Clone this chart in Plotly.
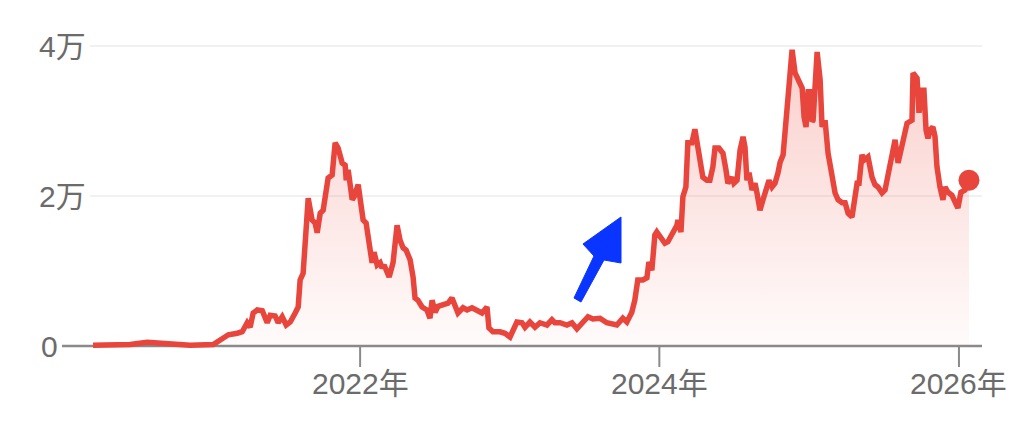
import pandas as pd
import plotly.graph_objects as go

# ---- data ----
# time in decimal years, price values
years = [
    2020.217, 2020.331, 2020.464, 2020.578, 2020.698, 2020.865, 2021.018, 2021.065, 2021.119, 2021.179,
    2021.212, 2021.245, 2021.265, 2021.285, 2021.312, 2021.346, 2021.379, 2021.399, 2021.432, 2021.452,
    2021.479, 2021.506, 2021.533, 2021.566, 2021.586, 2021.599, 2021.619, 2021.653, 2021.679, 2021.699,
    2021.713, 2021.733, 2021.753, 2021.786, 2021.813, 2021.833, 2021.853, 2021.880, 2021.900, 2021.907,
    2021.920, 2021.947, 2021.960, 2021.987, 2022.020, 2022.040, 2022.067, 2022.080, 2022.093, 2022.114,
    2022.134, 2022.147, 2022.160, 2022.194, 2022.220, 2022.247, 2022.267, 2022.287, 2022.307, 2022.334,
    2022.354, 2022.367, 2022.387, 2022.414, 2022.447, 2022.467, 2022.481, 2022.501, 2022.521, 2022.554,
    2022.588, 2022.614, 2022.634, 2022.654, 2022.688, 2022.715, 2022.748, 2022.781, 2022.815, 2022.848,
    2022.861, 2022.888, 2022.935, 2022.968, 2023.002, 2023.048, 2023.082, 2023.102, 2023.135, 2023.169,
    2023.202, 2023.249, 2023.282, 2023.302, 2023.336, 2023.382, 2023.416, 2023.449, 2023.489, 2023.523,
    2023.556, 2023.603, 2023.649, 2023.716, 2023.756, 2023.783, 2023.816, 2023.836, 2023.856, 2023.890,
    2023.917, 2023.930, 2023.950, 2023.970, 2023.983, 2024.017, 2024.037, 2024.057, 2024.090, 2024.117,
    2024.124, 2024.144, 2024.157, 2024.177, 2024.190, 2024.217, 2024.237, 2024.250, 2024.270, 2024.290,
    2024.317, 2024.337, 2024.357, 2024.371, 2024.397, 2024.424, 2024.444, 2024.457, 2024.484, 2024.497,
    2024.518, 2024.538, 2024.558, 2024.571, 2024.584, 2024.598, 2024.618, 2024.638, 2024.651, 2024.671,
    2024.691, 2024.718, 2024.731, 2024.751, 2024.771, 2024.791, 2024.805, 2024.825, 2024.851, 2024.871,
    2024.885, 2024.905, 2024.938, 2024.952, 2024.965, 2024.978, 2024.992, 2025.012, 2025.018, 2025.025,
    2025.052, 2025.072, 2025.085, 2025.105, 2025.125, 2025.152, 2025.172, 2025.192, 2025.219, 2025.239,
    2025.259, 2025.285, 2025.299, 2025.319, 2025.332, 2025.352, 2025.366, 2025.392, 2025.419, 2025.439,
    2025.459, 2025.486, 2025.506, 2025.526, 2025.553, 2025.573, 2025.593, 2025.619, 2025.639, 2025.653,
    2025.686, 2025.693, 2025.720, 2025.733, 2025.753, 2025.766, 2025.780, 2025.793, 2025.806, 2025.826,
    2025.840, 2025.853, 2025.873, 2025.893, 2025.907, 2025.927, 2025.953, 2025.973, 2025.993, 2026.013,
    2026.040, 2026.067,
]
prices = [
    100, 100, 200, 500, 300, 100, 200, 800, 1500, 1700,
    1900, 3100, 2500, 4400, 4800, 4700, 3100, 4100, 4000, 3100,
    3900, 2800, 3200, 4400, 5200, 8800, 9700, 19700, 16800, 16400,
    15100, 17700, 18100, 22400, 22800, 27100, 26400, 24400, 24100, 22100,
    23500, 19500, 19900, 21500, 16800, 16400, 12800, 11100, 12500, 10800,
    11100, 10400, 10800, 9200, 11100, 16100, 14100, 13100, 12800, 11500,
    9200, 6400, 6100, 5200, 4800, 3700, 6100, 4500, 5300, 5500,
    5700, 6400, 5100, 4400, 5100, 4800, 5100, 4800, 4400, 5200,
    2400, 1900, 1900, 1700, 1200, 3200, 3100, 2500, 3200, 2500,
    3100, 2800, 3500, 3100, 3100, 2800, 3100, 2300, 3100, 3900,
    3600, 3700, 3100, 2800, 3700, 3200, 4500, 6100, 8800, 8800,
    9100, 11200, 10100, 14800, 15200, 14100, 13700, 13900, 15200, 16100,
    16800, 15200, 19900, 21200, 27100, 27100, 28900, 27500, 24800, 22500,
    22100, 22100, 23900, 26400, 26400, 25700, 23500, 21700, 22500, 21700,
    22100, 26100, 27900, 26500, 22100, 23100, 20800, 21700, 20400, 18100,
    19500, 21100, 22100, 21200, 21700, 23100, 24500, 25500, 31900, 36400,
    39500, 36400, 35100, 34400, 30500, 29200, 33900, 33900, 29900, 30100,
    39200, 35500, 29200, 30100, 25700, 22100, 20400, 19500, 19100, 19100,
    17700, 17200, 19100, 21700, 21700, 25500, 24800, 25200, 22500, 21500,
    21200, 20400, 20800, 23100, 26100, 27500, 24400, 26500, 28400, 29700,
    30100, 36400, 35700, 31100, 34100, 34100, 28800, 27700, 28800, 29200,
    27900, 23900, 21200, 19500, 21200, 20500, 20100, 19200, 18400, 20500,
    20800, 22100,
]
y_tick_values = [0, 20000, 40000]
y_tick_labels = ["0", "2万", "4万"]
x_tick_years = [2022, 2024, 2026]
x_tick_labels = ["2022年", "2024年", "2026年"]


def to_date(t):
    y = int(t)
    start = pd.Timestamp(year=y, month=1, day=1)
    end = pd.Timestamp(year=y + 1, month=1, day=1)
    return start + (end - start) * (t - y)


dates = [to_date(t) for t in years]

# ---- layout geometry (pixels) ----
W, H = 1024, 424
ML, MR, MT, MB = 62, 42, 30, 54
PW, PH = W - ML - MR, H - MT - MB


def px_x(px):
    return (px - ML) / PW


def px_y(py):
    return (H - MB - py) / PH


LINE_RED = "#e8453c"
TEXT_GRAY = "#6b6b6b"
FONT = "Liberation Sans, Arial, Noto Sans CJK JP, sans-serif"

fig = go.Figure()
fig.add_trace(go.Scatter(
    x=dates, y=prices, mode="lines",
    line=dict(color=LINE_RED, width=5.5, shape="linear"),
    fill="tozeroy",
    fillgradient=dict(
        type="vertical",
        colorscale=[[0, "rgba(234,67,53,0.02)"], [1, "rgba(234,67,53,0.26)"]],
        start=0, stop=40000,
    ),
    hoverinfo="skip",
))
fig.add_trace(go.Scatter(
    x=[dates[-1]], y=[prices[-1]], mode="markers",
    marker=dict(color=LINE_RED, size=21),
    cliponaxis=False, hoverinfo="skip",
))

shapes = []
# gridlines
for v in y_tick_values[1:]:
    shapes.append(dict(type="line", xref="paper", yref="y",
                       x0=px_x(90), x1=1.0, y0=v, y1=v,
                       line=dict(color="#f1f1f1", width=2), layer="below"))
# x axis baseline
shapes.append(dict(type="line", xref="paper", yref="y",
                   x0=0.0, x1=1.0, y0=0, y1=0,
                   line=dict(color="#8a8a8a", width=2.5), layer="below"))
# ticks
for yr in x_tick_years:
    d = to_date(yr)
    shapes.append(dict(type="line", xref="x", yref="paper",
                       x0=d, x1=d, y0=px_y(346), y1=px_y(367),
                       line=dict(color="#8a8a8a", width=2), layer="below"))
# blue arrow (annotation mark)
arrow_pts = [(574, 298), (594, 256), (583, 244), (621, 217), (621, 263), (604, 260), (581, 302)]
path = "M " + " L ".join(f"{px_x(a):.5f},{px_y(b):.5f}" for a, b in arrow_pts) + " Z"
shapes.append(dict(type="path", xref="paper", yref="paper", path=path,
                   fillcolor="#0a34ff", line=dict(color="#0a34ff", width=1), layer="above"))

annotations = []
for v, lab in zip(y_tick_values, y_tick_labels):
    xr = 60 if v == 0 else 88
    annotations.append(dict(x=px_x(xr), y=v, xref="paper", yref="y", text=lab,
                            showarrow=False, xanchor="right", yanchor="middle",
                            font=dict(family=FONT, size=30, color=TEXT_GRAY)))
for yr, lab in zip(x_tick_years, x_tick_labels):
    annotations.append(dict(x=to_date(yr), y=px_y(383), xref="x", yref="paper", text=lab,
                            showarrow=False, xanchor="center", yanchor="middle",
                            font=dict(family=FONT, size=30, color=TEXT_GRAY)))

y_per_px = 20000 / 150.0
fig.update_layout(
    width=W, height=H,
    margin=dict(l=ML, r=MR, t=MT, b=MB, pad=0),
    paper_bgcolor="white", plot_bgcolor="white",
    showlegend=False,
    shapes=shapes, annotations=annotations,
    xaxis=dict(type="date", range=[to_date(2020.010), to_date(2026.154)],
               showgrid=False, zeroline=False, showline=False,
               showticklabels=False, ticks=""),
    yaxis=dict(range=[-(370 - 346) * y_per_px, (346 - 30) * y_per_px],
               showgrid=False, zeroline=False, showline=False,
               showticklabels=False, ticks=""),
)

fig.write_html(
    "out.html",
    config={"displayModeBar": False},
    post_script="document.body.style.margin='0px';document.body.style.overflow='hidden';",
)
